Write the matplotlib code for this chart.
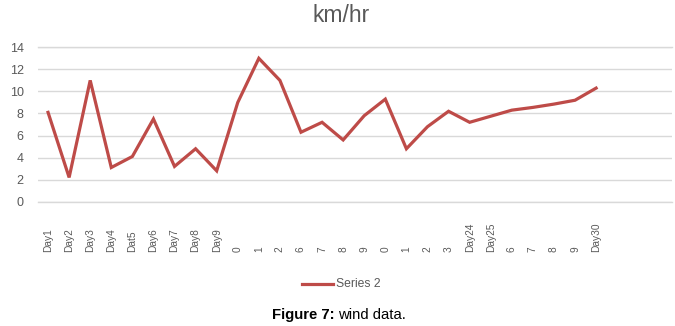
import matplotlib
matplotlib.use("Agg")
import matplotlib.pyplot as plt
import matplotlib.transforms as mtransforms
from matplotlib.lines import Line2D

labels = ["Day1", "Day2", "Day3", "Day4", "Dat5", "Day6", "Day7", "Day8", "Day9",
          "0", "1", "2", "6", "7", "8", "9", "0", "1", "2", "3",
          "Day24", "Day25", "6", "7", "8", "9", "Day30"]
speed = [8.1, 2.2, 11.0, 3.1, 4.1, 7.5, 3.2, 4.8, 2.8,
         9.0, 13.0, 11.0, 6.3, 7.2, 5.6, 7.8, 9.3, 4.8, 6.8, 8.2,
         7.2, 7.75, 8.3, 8.55, 8.85, 9.2, 10.3]
yticks = [0, 2, 4, 6, 8, 10, 12, 14]

W, H = 675, 326
fig = plt.figure(figsize=(W / 100, H / 100), dpi=100)
ax_left, ax_right = 37.5 / W, 672 / W
ax_bottom, ax_top = 1 - 201.7 / H, 1 - 47.3 / H
ax = fig.add_axes([ax_left, ax_bottom, ax_right - ax_left, ax_top - ax_bottom])

x = list(range(len(labels)))
ax.plot(x, speed, color="#BE4B48", lw=2.3, solid_joinstyle="miter", zorder=3)

ax.set_xlim(-0.5, 29.6)
ax.set_ylim(0, 14)
ax.set_yticks(yticks)
ax.set_yticklabels([str(v) for v in yticks], fontsize=9, color="#595959",
                   family="Liberation Sans")
ax.tick_params(axis="y", length=0, pad=10)
ax.set_xticks([])
for s in ax.spines.values():
    s.set_visible(False)
ax.grid(axis="y", color="#D9D9D9", lw=1)
ax.set_axisbelow(True)
for yv in (yticks[0], yticks[-1]):
    ax.axhline(yv, color="#D9D9D9", lw=1, clip_on=False, zorder=0)

# x category labels, rotated, bottom-aligned as in the reference
trans = mtransforms.blended_transform_factory(ax.transData, ax.transAxes)
yb = -(252 - 201.7) / (201.7 - 47.3)
for xi, lab in zip(x, labels):
    ax.text(xi, yb, lab, rotation=90, ha="center", va="bottom", fontsize=7.3,
            color="#595959", family="Liberation Sans", transform=trans)

fig.text(341 / W, 1 - 15 / H, "km/hr", ha="center", va="center", fontsize=16.5,
         color="#595959", family="Liberation Sans")

# legend
fig.add_artist(Line2D([302 / W, 333 / W], [1 - 284 / H] * 2, color="#BE4B48",
                      lw=2.3, transform=fig.transFigure))
fig.text(336 / W, 1 - 284 / H, "Series 2", ha="left", va="center", fontsize=8.7,
         color="#595959", family="Liberation Sans")

# caption
t1 = fig.text(272 / W, 1 - 315 / H, "Figure 7:", ha="left", va="center",
              fontsize=10.7, fontweight="bold", color="black", family="Liberation Sans")
fig.canvas.draw()
bb = t1.get_window_extent()
fig.text((bb.x1 + 3) / W, 1 - 315 / H, "wind data.", ha="left", va="center",
         fontsize=10.7, color="black", family="Liberation Sans")

fig.savefig("out.png", dpi=100)
